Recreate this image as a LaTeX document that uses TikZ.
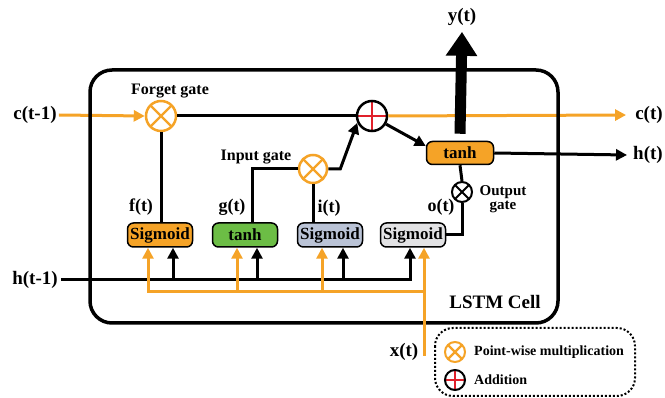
\documentclass[tikz,border=0pt]{standalone}
\usepackage{fontspec}
\setmainfont{Liberation Serif}
\usetikzlibrary{arrows.meta,calc}
\definecolor{org}{HTML}{F5A327}
\definecolor{grn}{HTML}{6CBD45}
\definecolor{blu}{HTML}{BAC3D6}
\definecolor{gry}{HTML}{E2E2E4}
\definecolor{crs}{HTML}{E0202A}
\begin{document}
\begin{tikzpicture}[x=1pt,y=-1pt,
  lbl/.style={font=\bfseries\fontsize{19}{19}\selectfont, inner sep=0pt},
  slbl/.style={font=\bfseries\fontsize{18}{18}\selectfont, inner sep=0pt},
  glbl/.style={font=\bfseries\fontsize{16}{16}\selectfont, inner sep=0pt},
  fn/.style={draw=black, line width=1.5pt, rounded corners=6pt, minimum width=65pt, minimum height=24pt, inner sep=0pt, font=\bfseries\fontsize{17}{17}\selectfont},
  mult/.style={circle, draw=org, fill=white, line width=2.5pt, minimum size=30pt, inner sep=0pt,
    path picture={\draw[org, line width=2.2pt] (path picture bounding box.south west) -- (path picture bounding box.north east) (path picture bounding box.north west) -- (path picture bounding box.south east);}},
  multk/.style={circle, draw=black, fill=white, line width=2pt, minimum size=20pt, inner sep=0pt,
    path picture={\draw[black, line width=1.8pt] (path picture bounding box.south west) -- (path picture bounding box.north east) (path picture bounding box.north west) -- (path picture bounding box.south east);}},
  plusc/.style={circle, draw=black, fill=white, line width=2.5pt, minimum size=30pt, inner sep=0pt,
    path picture={\draw[crs, line width=1.5pt] (path picture bounding box.north) -- (path picture bounding box.south) (path picture bounding box.west) -- (path picture bounding box.east);}},
  bline/.style={line width=3pt, draw=black},
  oline/.style={line width=3pt, draw=org},
  arr/.style={-{Triangle[length=11pt,width=11pt]}},
]
\useasboundingbox (0,0) rectangle (665,398);

% nodes
\node[lbl] (cin) at (35,115) {c(t-1)};
\node[mult] (fm) at (161,116) {};
\node[plusc] (pl) at (372,116) {};
\node[lbl] (ct) at (649,115) {c(t)};
\node[fn, fill=org, minimum width=67pt, minimum height=23pt] (to) at (460,153) {tanh};
\node[lbl] (ht) at (648,155) {h(t)};
\node[lbl] (yt) at (462,17) {y(t)};
\node[multk] (om) at (462,192) {};
\node[fn, fill=org] (fs) at (160,235) {Sigmoid};
\node[fn, fill=grn] (ts) at (245,235) {tanh};
\node[fn, fill=blu] (is) at (330,235) {Sigmoid};
\node[fn, fill=gry] (os) at (413,235) {Sigmoid};
\node[mult, minimum size=28pt] (im) at (313,169) {};
\node[lbl] (hin) at (35,280) {h(t-1)};
\node[lbl] (xt) at (404,352) {x(t)};

% labels
\node[glbl] (flbl) at (170,91) {Forget gate};
\node[glbl] (ilbl) at (256,157) {Input gate};
\node[slbl] (fl) at (141,207) {f(t)};
\node[slbl] (gl) at (232,207) {g(t)};
\node[slbl] (il) at (329,208) {i(t)};
\node[slbl] (ol) at (441,207) {o(t)};
\node[font=\bfseries\fontsize{15}{14}\selectfont, inner sep=0pt, align=center] (olbl) at (503,199) {Output\\gate};
\node[lbl] (cell) at (495,302) {LSTM Cell};

% cell-state orange lines (under the box border)
\draw[oline, arr] ([xshift=2pt]cin.east) -- (fm.west);
\draw[oline, arr] (pl.east) -- ([xshift=-9pt]ct.west);

% LSTM cell box
\draw[line width=3.5pt, rounded corners=22pt] (90,70) rectangle (558,323);

% black connections
\draw[bline] (fm.east) -- (pl.west);
\draw[bline] (fm.south) -- (fm.south |- fs.north);
\draw[bline] ([xshift=7pt]ts.north) |- (im.west);
\draw[bline] (im.south) -- (im.south |- is.north);
\draw[bline, arr] (im.east) -- ++(12,0) -- (pl.205);
\draw[bline, arr] (pl.-30) -- ([yshift=7pt]to.west);
\draw[bline, arr] (to.east) -- ([xshift=-6pt]ht.west);
\draw[line width=11pt, -{Triangle[length=24pt,width=30pt]}] ([yshift=7pt]to.north) -- ([yshift=-6pt]yt.south);
\draw[bline] (om.north) -- (to.south);
\draw[bline] (os.east) -| (om.south);

% h(t-1) bus
\coordinate (fb) at ($(fs.south)+(13,0)$);
\coordinate (tb) at ($(ts.south)+(12,0)$);
\coordinate (ib) at ($(is.south)+(13,0)$);
\coordinate (ob) at ($(os.south)+(-3,0)$);
\draw[bline, arr] ([xshift=3pt]hin.east) -| (ob);
\draw[bline, arr] (fb |- hin) -- (fb);
\draw[bline, arr] (tb |- hin) -- (tb);
\draw[bline, arr] (ib |- hin) -- (ib);

% x(t) bus
\coordinate (fo) at ($(fs.south)+(-12,0)$);
\coordinate (to2) at ($(ts.south)+(-8,0)$);
\coordinate (io) at ($(is.south)+(-8,0)$);
\coordinate (oo) at ($(os.south)+(11,0)$);
\coordinate (oh) at (424,292);
\coordinate (xs) at (424,356);
\draw[oline, arr] (xs) -- (oo);
\draw[oline, arr] (oh) -| (fo);
\draw[oline, arr] (to2 |- oh) -- (to2);
\draw[oline, arr] (io |- oh) -- (io);

% legend
\draw[dotted, line width=2pt, rounded corners=18pt] (435,328) rectangle (635,396);
\node[mult, minimum size=20pt, line width=2pt] (lm) at (455,352) {};
\node[plusc, minimum size=20pt, line width=2pt] (lp) at (455,380) {};
\node[anchor=west, inner sep=0pt, font=\bfseries\fontsize{14}{14}\selectfont] (lmt) at ([xshift=8pt]lm.east) {Point-wise multiplication};
\node[anchor=west, inner sep=0pt, font=\bfseries\fontsize{14}{14}\selectfont] (lpt) at ([xshift=8pt]lp.east) {Addition};
\end{tikzpicture}
\end{document}
